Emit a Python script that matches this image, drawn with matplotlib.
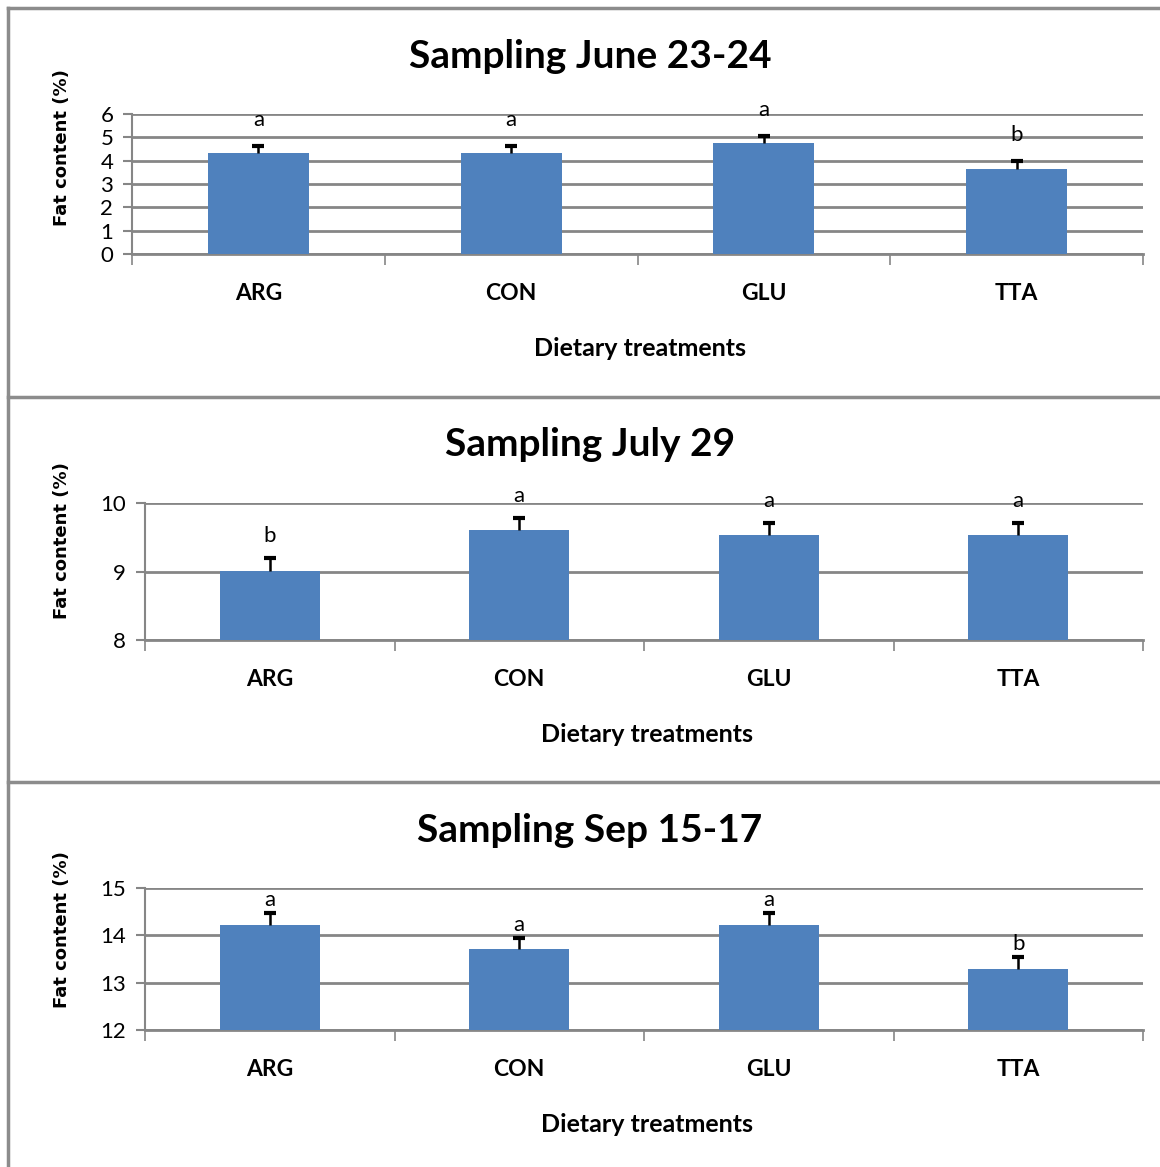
import matplotlib.pyplot as plt
from matplotlib.lines import Line2D

treatments = ['ARG', 'CON', 'GLU', 'TTA']

titles = ['Sampling June 23-24', 'Sampling July 29', 'Sampling Sep 15-17']

june_mean = [4.33, 4.33, 4.76, 3.64]
june_err = [0.30, 0.30, 0.30, 0.33]
june_letters = ['a', 'a', 'a', 'b']

july_mean = [9.01, 9.60, 9.54, 9.54]
july_err = [0.18, 0.18, 0.17, 0.17]
july_letters = ['b', 'a', 'a', 'a']

sep_mean = [14.22, 13.71, 14.22, 13.29]
sep_err = [0.26, 0.24, 0.26, 0.25]
sep_letters = ['a', 'a', 'a', 'b']

yticks = [[0, 1, 2, 3, 4, 5, 6], [8, 9, 10], [12, 13, 14, 15]]
ylims = [(0, 6), (8, 10), (12, 15)]

W, H = 1160, 1167
bar_color = '#4F81BD'
grid_color = '#868686'
font = ['Lato', 'DejaVu Sans']

fig = plt.figure(figsize=(W / 100, H / 100), dpi=100)

# axes boxes in pixels: left, right, top, bottom
boxes = [(132, 1143, 114, 254), (145, 1143, 503, 640), (145, 1143, 888, 1030)]
label_offsets = [26, 22, 13]  # px between error bar top and letter
ylabel_centers = [148, 541, 930]
xlabel_x = [640, 647, 647]

# panel borders
for y in [8, 397, 782]:
    fig.add_artist(Line2D([8 / W, 1], [1 - y / H, 1 - y / H], color='#8c8c8c', lw=2.5))
fig.add_artist(Line2D([8 / W, 8 / W], [0, 1 - 8 / H], color='#8c8c8c', lw=2.5))

data = [(june_mean, june_err, june_letters),
        (july_mean, july_err, july_letters),
        (sep_mean, sep_err, sep_letters)]

for i, (means, errs, letters) in enumerate(data):
    l, r, t, b = boxes[i]
    ax = fig.add_axes([l / W, 1 - b / H, (r - l) / W, (b - t) / H])
    x = range(len(treatments))
    ax.bar(x, [m - ylims[i][0] for m in means], bottom=ylims[i][0], width=0.4,
           color=bar_color, zorder=3)
    eb = ax.errorbar(x, means, yerr=[[0] * 4, errs], fmt='none', ecolor='black',
                     elinewidth=1.8, capsize=4, capthick=3, zorder=4)
    eb[1][0].set_visible(False)  # only the upper cap
    for xi, m, e, s in zip(x, means, errs, letters):
        ax.annotate(s, (xi, m + e), xytext=(0, label_offsets[i] * 0.72),
                    textcoords='offset points', ha='center', va='center',
                    fontsize=16, family=font)
    ax.set_xlim(-0.5, 3.5)
    ax.set_ylim(*ylims[i])
    ax.set_yticks(yticks[i])
    ax.set_yticklabels([str(v) for v in yticks[i]], fontsize=16, family=font)
    ax.set_xticks(list(x))
    ax.set_xticklabels(treatments, fontsize=16.5, fontweight='bold', family=font)
    ax.set_xticks([-0.5, 0.5, 1.5, 2.5, 3.5], minor=True)
    ax.tick_params(axis='x', which='major', length=0, pad=21)
    ax.tick_params(axis='x', which='minor', length=8, width=1.2, color=grid_color, direction='out')
    ax.tick_params(axis='y', length=6.5, width=1.5, color=grid_color, pad=7)
    ax.yaxis.grid(True, color=grid_color, lw=2, zorder=0)
    ax.set_axisbelow(True)
    for sp in ['top', 'right']:
        ax.spines[sp].set_visible(False)
    ax.spines['left'].set_color(grid_color)
    ax.spines['left'].set_linewidth(1.5)
    ax.spines['bottom'].set_color(grid_color)
    ax.spines['bottom'].set_linewidth(2)

    fig.text(590 / W, 1 - (t - 58) / H, titles[i], ha='center', va='center',
             fontsize=28, fontweight='bold', family=font)
    fig.text(xlabel_x[i] / W, 1 - (b + 95) / H, 'Dietary treatments', ha='center',
             va='center', fontsize=18, fontweight='bold', family=font)
    fig.text(62 / W, 1 - ylabel_centers[i] / H, 'Fat content (%)', rotation=90, ha='center',
             va='center', fontsize=13, fontweight='bold', family='DejaVu Sans')

fig.savefig('out.png', dpi=100)
